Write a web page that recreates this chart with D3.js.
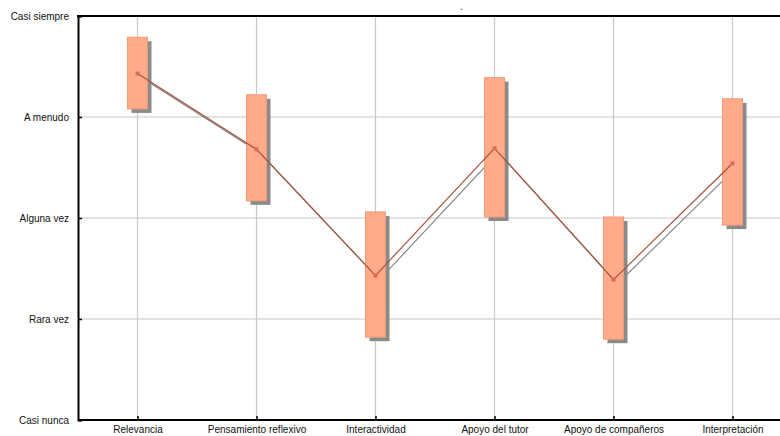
<!DOCTYPE html>
<html><head><meta charset="utf-8">
<script src="https://cdn.jsdelivr.net/npm/d3@7"></script>
<style>body{margin:0;background:#fff}svg{display:block}text{font-family:"Liberation Sans",Arial,sans-serif;fill:#111}</style>
</head><body><svg id="c" width="780" height="436"></svg>
<script>
const categories = ["Relevancia","Pensamiento reflexivo","Interactividad","Apoyo del tutor","Apoyo de compañeros","Interpretación"];
const levels = ["Casi nunca","Rara vez","Alguna vez","A menudo","Casi siempre"];
const means = [3.43, 2.68, 1.43, 2.69, 1.39, 2.54];
const upper = [3.79, 3.22, 2.06, 3.39, 2.01, 3.18];
const lower = [3.08, 2.17, 0.82, 2.01, 0.80, 1.93];

const svg = d3.select("#c");
const L = 78, T = 16, B = 420, R = 792;
const x = d3.scalePoint().domain(categories).range([L, R]).padding(0.5);
const y = d3.scaleLinear().domain([0, 4]).range([B, T]);
const data = categories.map((c, i) => ({c, m: means[i], hi: upper[i], lo: lower[i]}));

// grid
svg.append("g").selectAll("line").data(categories).join("line")
  .attr("x1", d => x(d)).attr("x2", d => x(d)).attr("y1", T).attr("y2", B)
  .attr("stroke", "#c8c8c8").attr("stroke-width", 1.2);
svg.append("g").selectAll("line").data([1, 2, 3]).join("line")
  .attr("x1", L).attr("x2", 780).attr("y1", d => y(d)).attr("y2", d => y(d))
  .attr("stroke", "#c8c8c8").attr("stroke-width", 1.2);

const line = d3.line().x(d => x(d.c)).y(d => y(d.m));
const bw = 20, off = 4;
// shadow line
svg.append("path").datum(data).attr("d", line).attr("transform", `translate(${off},${off})`)
  .attr("fill", "none").attr("stroke", "#808080").attr("stroke-width", 1.1);
// box shadows
svg.append("g").selectAll("rect").data(data).join("rect")
  .attr("x", d => x(d.c) - bw / 2 + off).attr("y", d => y(d.hi) + off)
  .attr("width", bw).attr("height", d => y(d.lo) - y(d.hi))
  .attr("fill", "#8a8a8a");
// boxes
svg.append("g").selectAll("rect").data(data).join("rect")
  .attr("x", d => x(d.c) - bw / 2).attr("y", d => y(d.hi))
  .attr("width", bw).attr("height", d => y(d.lo) - y(d.hi))
  .attr("fill", "#ffab8a").attr("stroke", "#f29a78").attr("stroke-width", 1);
// mean line
svg.append("path").datum(data).attr("d", line)
  .attr("fill", "none").attr("stroke", "#a5533e").attr("stroke-width", 1.2);
svg.append("g").selectAll("rect").data(data).join("rect")
  .attr("x", d => x(d.c) - 2).attr("y", d => y(d.m) - 2).attr("width", 4).attr("height", 4)
  .attr("fill", "#e06a55");

// axes
const yAxis = d3.axisLeft(y).tickValues([0, 1, 2, 3, 4]).tickFormat(d => levels[d]).tickSize(-4).tickPadding(9);
const gy = svg.append("g").attr("transform", `translate(${L},0)`).call(yAxis);
gy.select(".domain").attr("stroke", "#000").attr("stroke-width", 2);
gy.selectAll(".tick line").attr("stroke", "#000").attr("stroke-width", 1.5);
gy.selectAll("text").attr("font-size", 10).attr("fill", "#111").attr("font-family", "Liberation Sans, Arial, sans-serif");

const xAxis = d3.axisBottom(x).tickSize(-4).tickPadding(6);
const gx = svg.append("g").attr("transform", `translate(0,${B})`).call(xAxis);
gx.select(".domain").attr("d", `M${L},0H780`).attr("stroke", "#000").attr("stroke-width", 2);
gx.selectAll(".tick line").attr("stroke", "#000").attr("stroke-width", 1.5);
gx.selectAll("text").attr("font-size", 10).attr("fill", "#111").attr("font-family", "Liberation Sans, Arial, sans-serif");

// top frame
svg.append("line").attr("x1", L - 1).attr("x2", 780).attr("y1", T).attr("y2", T)
  .attr("stroke", "#000").attr("stroke-width", 2);
svg.append("text").attr("x", 460).attr("y", 10).attr("font-size", 10).text(".");
</script></body></html>
